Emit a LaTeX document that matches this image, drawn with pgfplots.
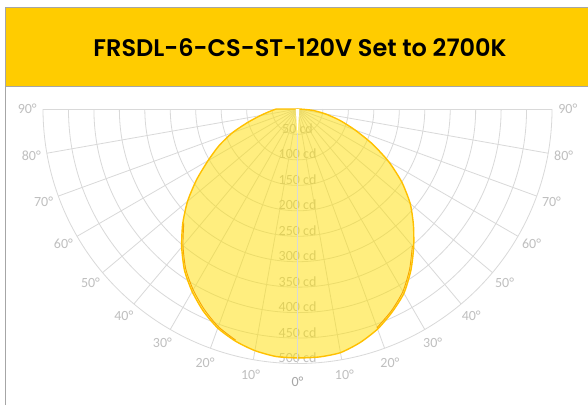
\documentclass[border=0pt]{standalone}
\usepackage{fontspec}
\setmainfont{Carlito}
\newfontfamily\titlefont{Poppins}[BoldFont={* SemiBold}]
\usepackage{pgfplots}
\pgfplotsset{compat=1.18}
\usepackage{pgfplotstable}
\definecolor{gridc}{HTML}{D9D9D9}
\definecolor{labc}{HTML}{BFBFBF}
\definecolor{zeroc}{HTML}{A6A6A6}
\definecolor{titlebg}{HTML}{FFCC00}
\definecolor{curvec}{HTML}{FFC000}
\definecolor{curveb}{HTML}{F7A800}
\definecolor{fillc}{HTML}{FFDF00}
\definecolor{borderc}{HTML}{A6A6A6}

% angle (negative = left side), candela
\pgfplotstableread{
ang cd
-90 42
-85 55
-80 74
-75 101
-70 136
-65 170
-60 203
-55 242
-50 282
-45 319
-40 354
-35 387
-30 414
-25 438
-20 458
-15 472
-10 482
-5 488
0 489
5 489
10 486
15 475
20 460
25 440
30 418
35 388
40 355
45 322
50 289
55 250
60 207
65 162
70 120
75 86
80 56
85 30
90 4
}\maincurve

\pgfplotstableread{
ang cd
-45 316
-40 350
-35 383
-30 410
-25 434
-20 455
-15 470
}\leftb

\pgfplotstableread{
ang cd
20 457
25 437
30 414
35 384
40 351
}\rightb

\begin{document}
\begin{tikzpicture}[x=1pt,y=1pt]
\useasboundingbox (0,0) rectangle (588,405);
\fill[white] (0,0) rectangle (588,405);
% title bar
\fill[titlebg] (5.5,318) rectangle (588,397);
\draw[borderc, line width=1pt] (5.5,0) -- (5.5,397) -- (588,397);
\draw[borderc, line width=1pt] (5.5,318) -- (588,318);
\node[font=\titlefont\bfseries\fontsize{24}{24}\selectfont, text=black] at (300,357.5) {FRSDL-6-CS-ST-120V Set to 2700K};

\begin{axis}[
  at={(0,0)}, anchor=south west,
  x=0.509pt, y=0.509pt,
  xmin=-584.5, xmax=570.7, ymin=-581.5, ymax=214.1,
  hide axis, clip=false,
]
% rings
\pgfplotsinvokeforeach{50,100,...,500}{
  \draw[gridc, line width=0.8pt] (axis cs:-#1,0) arc[start angle=180, end angle=360, radius=#1*0.509pt];
}
% spokes
\draw[gridc, line width=0.8pt] (axis cs:-500,0) -- (axis cs:500,0);
\pgfplotsinvokeforeach{10,20,...,80}{
  \draw[gridc, line width=0.8pt] (axis cs:0,0) -- (axis cs:{500*sin(#1)},{-500*cos(#1)});
  \draw[gridc, line width=0.8pt] (axis cs:0,0) -- (axis cs:{-500*sin(#1)},{-500*cos(#1)});
}
% cd labels
\pgfplotsinvokeforeach{50,100,...,500}{
  \node[anchor=base, text=labc, font=\fontsize{14}{14}\selectfont, inner sep=0pt] at (axis cs:0,{-#1+2}) {#1 cd};
}
% curve
\addplot[fill=fillc, fill opacity=0.5, draw=curvec, line width=1.4pt, line join=round, smooth, tension=0.4]
  table[x expr={\thisrow{cd}*sin(\thisrow{ang})}, y expr={-\thisrow{cd}*cos(\thisrow{ang})}] {\maincurve} -- cycle;
\addplot[draw=curveb, line width=0.9pt, line join=round, smooth, tension=0.4]
  table[x expr={\thisrow{cd}*sin(\thisrow{ang})}, y expr={-\thisrow{cd}*cos(\thisrow{ang})}] {\leftb};
\addplot[draw=curveb, line width=0.9pt, line join=round, smooth, tension=0.4]
  table[x expr={\thisrow{cd}*sin(\thisrow{ang})}, y expr={-\thisrow{cd}*cos(\thisrow{ang})}] {\rightb};
% white gap and 0 degree spoke
\fill[white] (axis cs:-3.5,0) -- (axis cs:3.5,0) -- (axis cs:0,-48) -- cycle;
\draw[gridc, line width=0.8pt] (axis cs:0,-48) -- (axis cs:0,-500);
% angle labels
\pgfplotsinvokeforeach{10,20,...,90}{
  \node[text=labc, font=\fontsize{14}{14}\selectfont] at (axis cs:{531*sin(#1)},{-531*cos(#1)}) {#1°};
  \node[text=labc, font=\fontsize{14}{14}\selectfont] at (axis cs:{-531*sin(#1)},{-531*cos(#1)}) {#1°};
}
\node[text=zeroc, font=\fontsize{14}{14}\selectfont] at (axis cs:0,-536) {0°};
\end{axis}
\end{tikzpicture}
\end{document}
